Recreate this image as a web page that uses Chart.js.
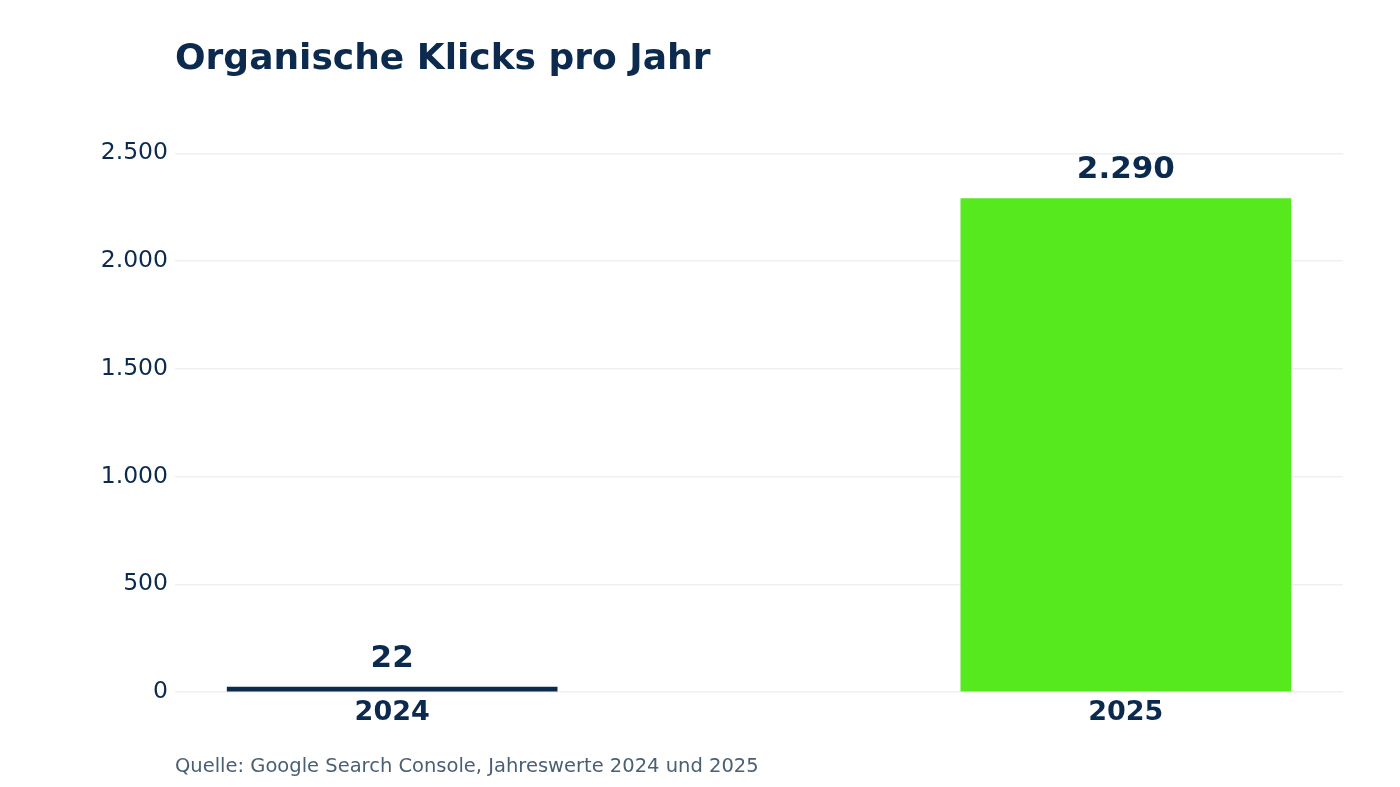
<!DOCTYPE html>
<html>
<head>
<meta charset="utf-8">
<script src="https://cdn.jsdelivr.net/npm/chart.js@4"></script>
<style>
  html, body { margin: 0; padding: 0; background: #fff; }
  #wrap { width: 1400px; height: 787px; }
</style>
</head>
<body>
<div id="wrap"><canvas id="c"></canvas></div>
<script>
const years = ['2024', '2025'];
const clicks = [22, 2290];
const barColors = ['#0b2a4e', '#55e91e'];
const yTicks = [0, 500, 1000, 1500, 2000, 2500];

const navy = '#0b2a4e';
const fmt = v => String(v).replace(/\B(?=(\d{3})+(?!\d))/g, '.');

const textPlugin = {
  id: 'texts',
  afterDraw(chart) {
    const ctx = chart.ctx;
    ctx.save();
    ctx.fillStyle = navy;
    ctx.textAlign = 'left';
    ctx.textBaseline = 'alphabetic';
    ctx.font = 'bold 36px "DejaVu Sans"';
    ctx.fillText('Organische Klicks pro Jahr', 175, 69);
    ctx.font = '19.5px "DejaVu Sans"';
    ctx.fillStyle = '#4a5f74';
    ctx.fillText('Quelle: Google Search Console, Jahreswerte 2024 und 2025', 175, 772);
    // value labels
    const meta = chart.getDatasetMeta(0);
    ctx.fillStyle = navy;
    ctx.font = 'bold 31px "DejaVu Sans"';
    ctx.textAlign = 'center';
    ctx.textBaseline = 'bottom';
    meta.data.forEach((bar, i) => {
      ctx.fillText(fmt(clicks[i]), bar.x, bar.y - 13);
    });
    ctx.restore();
  }
};

new Chart(document.getElementById('c'), {
  type: 'bar',
  data: {
    datasets: [{
      data: clicks.map((v, i) => ({ x: i, y: v })),
      backgroundColor: barColors,
      barThickness: 330,
      minBarLength: 5
    }]
  },
  options: {
    responsive: true,
    maintainAspectRatio: false,
    animation: false,
    layout: { padding: { top: 121, right: 57, left: 0, bottom: 0 } },
    plugins: { legend: { display: false }, tooltip: { enabled: false } },
    scales: {
      x: {
        type: 'linear',
        offset: false,
        min: -0.296,
        max: 1.296,
        grid: { display: false, offset: false },
        border: { display: false },
        afterBuildTicks: s => { s.ticks = years.map((_, i) => ({ value: i })); },
        afterFit: s => { s.height = 95; },
        ticks: {
          callback: v => years[v],
          color: navy,
          font: { family: 'DejaVu Sans', size: 27, weight: 'bold' },
          padding: -3,
          maxRotation: 0
        }
      },
      y: {
        min: 0,
        max: 2650,
        grid: { color: '#f0f0f0', lineWidth: 1.5, drawTicks: false },
        border: { display: false },
        afterBuildTicks: s => { s.ticks = yTicks.map(v => ({ value: v })); },
        afterFit: s => { s.width = 175; },
        ticks: {
          callback: v => fmt(v),
          color: navy,
          font: { family: 'DejaVu Sans', size: 23.5 },
          padding: 7
        }
      }
    }
  },
  plugins: [textPlugin]
});
</script>
</body>
</html>
